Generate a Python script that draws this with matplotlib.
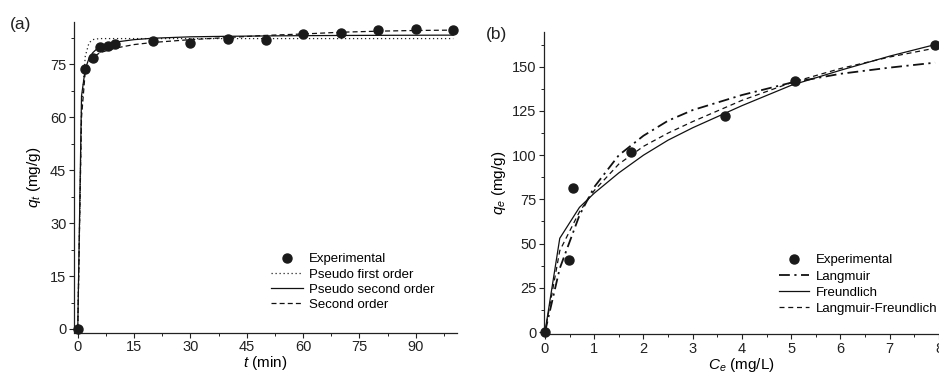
import matplotlib
matplotlib.use("Agg")
import matplotlib.pyplot as plt
from matplotlib.ticker import MultipleLocator

plt.rcParams['font.family'] = ['Liberation Sans', 'DejaVu Sans']
plt.rcParams['mathtext.fontset'] = 'custom'
plt.rcParams['mathtext.rm'] = 'Liberation Sans'
plt.rcParams['mathtext.it'] = 'Liberation Sans:italic'

# ---------------- Panel (a): kinetics ----------------
t_exp = [0, 2, 4, 6, 8, 10, 20, 30, 40, 50, 60, 70, 80, 90, 100]
q_exp = [0, 73.8, 76.9, 80.0, 80.1, 80.8, 81.7, 81.1, 82.1, 81.8, 83.5, 84.0, 84.8, 84.9, 84.6]

t_fit = [0, 1, 2, 3, 4, 5, 6, 8, 10, 15, 20, 30, 40, 50, 60, 70, 80, 90, 100]
q_pfo = [0, 62.0, 77.3, 81.1, 82.0, 82.2, 82.3, 82.3, 82.3, 82.3, 82.3, 82.3, 82.3, 82.3, 82.3, 82.3, 82.3, 82.3, 82.3]
q_pso = [0, 66.0, 73.7, 76.7, 78.3, 79.3, 80.0, 80.8, 81.3, 82.0, 82.4, 82.8, 82.95, 83.05, 83.13, 83.18, 83.22, 83.25, 83.28]
q_so = [0, 60.0, 73.0, 75.5, 76.8, 77.7, 78.3, 79.0, 79.6, 80.6, 81.2, 82.0, 82.6, 83.2, 83.6, 84.1, 84.4, 84.6, 84.7]

# ---------------- Panel (b): isotherms ----------------
ce_exp = [0, 0.49, 0.56, 1.74, 3.66, 5.08, 7.91]
qe_exp = [0, 40.5, 81.2, 101.6, 121.9, 142.1, 162.2]

ce_fit = [0, 0.3, 0.7, 1.0, 1.5, 2.0, 2.5, 3.0, 4.0, 5.0, 6.0, 7.0, 7.92]
q_lang = [0, 36, 66, 82, 100, 111, 119.5, 125.5, 134, 141, 146, 149.5, 152.3]
q_freu = [0, 53, 70.5, 78.5, 90, 100, 108.5, 115.5, 128, 139.5, 148, 156, 162.5]
q_lf = [0, 46, 68, 80, 95, 105, 112.5, 119, 131, 141, 149, 155.5, 160.5]

fig = plt.figure(figsize=(9.39, 3.74), dpi=100)
W, H = 939.0, 374.0

def fx(px):
    return px / W

def fy(py):
    return 1 - py / H

axA = fig.add_axes([fx(74), fy(332.5), (457 - 74) / W, (332.5 - 22) / H])
axB = fig.add_axes([fx(544), fy(334), (939 - 544) / W, (334 - 31.7) / H])

for ax in (axA, axB):
    ax.spines['top'].set_visible(False)
    ax.spines['right'].set_visible(False)
    for s in ('left', 'bottom'):
        ax.spines[s].set_linewidth(0.9)
        ax.spines[s].set_color('#222222')
    ax.tick_params(which='major', direction='out', length=3.5, width=0.8,
                   labelsize=10.5, colors='#222222', pad=2)
    ax.tick_params(which='minor', direction='out', length=2, width=0.7, colors='#222222')

lw = 0.9
# panel a
axA.plot(t_fit, q_pfo, color='#222222', lw=lw, linestyle=(0, (1, 2.2)), label='Pseudo first order')
axA.plot(t_fit, q_pso, color='#111111', lw=lw, linestyle='-', label='Pseudo second order')
axA.plot(t_fit, q_so, color='#111111', lw=lw, linestyle=(0, (4, 2.5)), label='Second order')
axA.plot(t_exp, q_exp, 'o', color='#1a1a1a', markersize=6.5, label='Experimental', zorder=5,
         clip_on=False)
axA.set_xlim(-1, 101)
axA.set_ylim(-1, 87)
axA.xaxis.set_major_locator(MultipleLocator(15))
axA.xaxis.set_minor_locator(MultipleLocator(7.5))
axA.yaxis.set_major_locator(MultipleLocator(15))
axA.yaxis.set_minor_locator(MultipleLocator(7.5))
axA.set_xlabel(r'$t$ (min)', fontsize=11, labelpad=0)
axA.set_ylabel(r'$q_t$ (mg/g)', fontsize=11, labelpad=5)

hA, lA = axA.get_legend_handles_labels()
order = [3, 0, 1, 2]
legA = fig.legend([hA[i] for i in order], [lA[i] for i in order],
                  loc='center left', bbox_to_anchor=(fx(271), fy(282)),
                  frameon=False, fontsize=9.5, handlelength=2.4, handletextpad=0.45,
                  labelspacing=0.22, borderpad=0, borderaxespad=0)

# panel b
axB.plot(ce_fit, q_lang, color='#111111', lw=1.3, linestyle=(0, (6, 2.5, 1.2, 2.5)), label='Langmuir')
axB.plot(ce_fit, q_freu, color='#111111', lw=lw, linestyle='-', label='Freundlich')
axB.plot(ce_fit, q_lf, color='#111111', lw=lw, linestyle=(0, (4, 3)), label='Langmuir-Freundlich')
axB.plot(ce_exp, qe_exp, 'o', color='#1a1a1a', markersize=6.5, label='Experimental', zorder=5,
         clip_on=False)
axB.set_xlim(-0.02, 8.0)
axB.set_ylim(-1.1, 169.8)
axB.xaxis.set_major_locator(MultipleLocator(1))
axB.xaxis.set_minor_locator(MultipleLocator(0.5))
axB.yaxis.set_major_locator(MultipleLocator(25))
axB.yaxis.set_minor_locator(MultipleLocator(12.5))
axB.set_xlabel(r'$C_e$ (mg/L)', fontsize=11, labelpad=0)
axB.set_ylabel(r'$q_e$ (mg/g)', fontsize=11, labelpad=3)

hB, lB = axB.get_legend_handles_labels()
legB = fig.legend([hB[i] for i in order], [lB[i] for i in order],
                  loc='center left', bbox_to_anchor=(fx(779), fy(284.5)),
                  frameon=False, fontsize=9.5, handlelength=2.3, handletextpad=0.5,
                  labelspacing=0.3, borderpad=0, borderaxespad=0)

fig.text(fx(21), fy(24), '(a)', fontsize=12.5, ha='center', va='center', color='#222222')
fig.text(fx(497), fy(35), '(b)', fontsize=12.5, ha='center', va='center', color='#222222')

fig.savefig('out.png', dpi=100)
